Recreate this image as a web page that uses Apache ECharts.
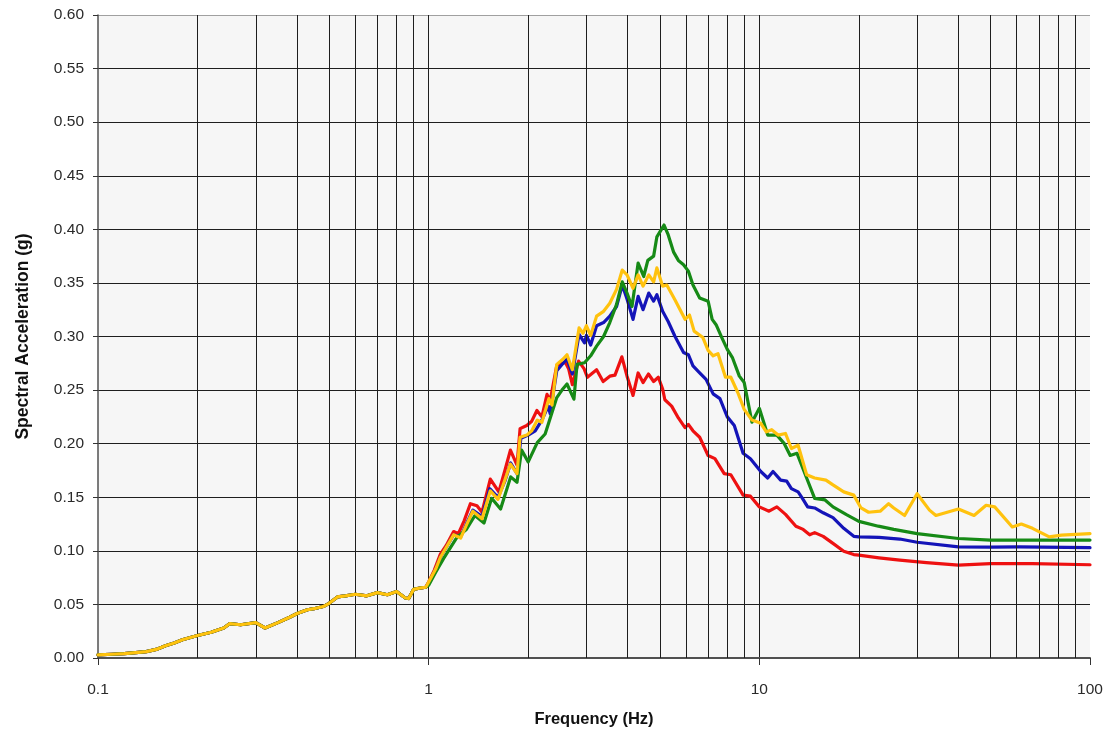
<!DOCTYPE html>
<html>
<head>
<meta charset="utf-8">
<script src="https://cdn.jsdelivr.net/npm/echarts@6/dist/echarts.min.js"></script>
<style>
html,body{margin:0;padding:0;background:#fff;}
#chart{width:1109px;height:733px;}
</style>
</head>
<body>
<div id="chart"></div>
<script>
// Shared low-frequency portion (all four curves coincide)
const lowF = [0.1, 0.11, 0.12, 0.13, 0.14, 0.15, 0.16, 0.17, 0.18, 0.2, 0.22, 0.24, 0.25, 0.27, 0.3, 0.32, 0.35, 0.38, 0.4, 0.43, 0.45, 0.48, 0.5, 0.53, 0.56, 0.6, 0.65, 0.7, 0.75, 0.8, 0.85, 0.87, 0.9, 0.95, 0.98];
const lowV = [0.003, 0.0035, 0.004, 0.005, 0.006, 0.008, 0.0115, 0.014, 0.017, 0.021, 0.024, 0.028, 0.032, 0.031, 0.033, 0.028, 0.033, 0.038, 0.0415, 0.045, 0.046, 0.048, 0.051, 0.057, 0.058, 0.0595, 0.058, 0.061, 0.059, 0.062, 0.056, 0.0555, 0.064, 0.0655, 0.066];

const redF = [1.0,1.04,1.085,1.13,1.19,1.23,1.28,1.337,1.4,1.45,1.536,1.63,1.7,1.767,1.85,1.89,1.98,2.05,2.125,2.2,2.28,2.33,2.44,2.59,2.65,2.72,2.84,2.95,3.02,3.22,3.37,3.53,3.66,3.84,3.98,4.15,4.3,4.45,4.62,4.79,4.95,5.1,5.18,5.43,5.69,5.96,6.1,6.3,6.6,7.0,7.34,7.83,8.2,8.93,9.4,10.0,10.7,11.3,12.0,12.9,13.57,14.2,14.7,15.6,16.7,18.0,19.3,20,23,26.6,32,40,50,67,100];
const redV = [0.071,0.082,0.097,0.105,0.118,0.116,0.128,0.144,0.142,0.136,0.167,0.155,0.175,0.194,0.18,0.214,0.217,0.221,0.231,0.225,0.246,0.240,0.273,0.276,0.270,0.255,0.277,0.27,0.262,0.269,0.258,0.263,0.264,0.281,0.263,0.245,0.266,0.257,0.265,0.258,0.262,0.251,0.241,0.235,0.224,0.215,0.218,0.212,0.206,0.189,0.186,0.172,0.171,0.152,0.151,0.141,0.137,0.141,0.134,0.123,0.120,0.115,0.117,0.1135,0.107,0.0996,0.0965,0.096,0.0935,0.0913,0.089,0.0866,0.088,0.088,0.087];

const blueF = [1.0,1.05,1.085,1.19,1.25,1.3,1.36,1.45,1.53,1.62,1.7,1.77,1.85,1.9,2.0,2.1,2.2,2.3,2.33,2.44,2.55,2.62,2.72,2.85,2.96,3.0,3.09,3.22,3.38,3.53,3.7,3.85,3.98,4.15,4.3,4.45,4.63,4.79,4.9,5.1,5.3,5.56,5.9,6.1,6.3,6.6,6.9,7.25,7.6,8.0,8.4,8.93,9.4,10.1,10.6,11.0,11.6,12.1,12.5,13.1,13.5,14.0,14.7,15.6,16.7,18,19.3,20,23,26.6,30,40,50,61,100];
const blueV = [0.07,0.083,0.094,0.115,0.113,0.125,0.138,0.132,0.158,0.15,0.165,0.182,0.172,0.205,0.208,0.212,0.222,0.235,0.228,0.268,0.275,0.279,0.265,0.302,0.294,0.301,0.292,0.31,0.313,0.319,0.328,0.348,0.335,0.316,0.3375,0.325,0.3405,0.333,0.339,0.3235,0.314,0.300,0.285,0.283,0.2725,0.266,0.26,0.2465,0.242,0.225,0.217,0.191,0.186,0.174,0.168,0.174,0.166,0.165,0.158,0.155,0.149,0.141,0.140,0.1355,0.131,0.121,0.1135,0.113,0.1125,0.111,0.108,0.1037,0.1035,0.1037,0.103];

const greenF = [1.0,1.05,1.11,1.22,1.3,1.38,1.47,1.55,1.65,1.77,1.85,1.91,2.0,2.13,2.25,2.31,2.44,2.53,2.62,2.75,2.81,2.96,3.09,3.22,3.38,3.53,3.7,3.85,3.98,4.12,4.3,4.47,4.6,4.79,4.9,5.15,5.3,5.5,5.69,5.9,6.1,6.3,6.6,7.0,7.2,7.4,7.7,8.0,8.3,8.7,9.0,9.5,10.0,10.6,11.3,11.9,12.4,13.0,13.9,14.7,15.8,16.7,18.4,20,22.9,25.5,30,40,50,70,100];
const greenV = [0.068,0.08,0.093,0.113,0.12,0.133,0.126,0.149,0.139,0.169,0.164,0.194,0.183,0.201,0.209,0.22,0.243,0.25,0.2557,0.2415,0.274,0.2755,0.282,0.291,0.30,0.313,0.33,0.351,0.3405,0.328,0.3685,0.356,0.371,0.375,0.393,0.404,0.395,0.379,0.371,0.367,0.361,0.348,0.336,0.333,0.316,0.311,0.299,0.288,0.28,0.263,0.257,0.22,0.233,0.208,0.208,0.2,0.189,0.191,0.168,0.149,0.1475,0.141,0.1335,0.1275,0.123,0.12,0.116,0.1115,0.11,0.11,0.11];

const yellowF = [1.0,1.05,1.085,1.19,1.25,1.3,1.36,1.45,1.536,1.62,1.7,1.767,1.85,1.89,1.98,2.05,2.13,2.2,2.31,2.36,2.44,2.55,2.62,2.72,2.85,2.93,3.0,3.09,3.22,3.38,3.53,3.7,3.85,3.98,4.15,4.3,4.45,4.63,4.79,4.9,5.1,5.25,5.56,5.96,6.15,6.35,6.75,7.0,7.25,7.5,7.9,8.2,8.6,9.0,9.5,10.1,10.5,10.9,11.4,12.0,12.5,13.1,13.9,14.7,15.9,16.7,18,19.3,20.3,21.4,23.2,24.6,25.5,27.5,30,32.7,34.2,37,40,44.6,48.5,51.5,58.2,62,67,75.3,82,100];
const yellowV = [0.071,0.083,0.094,0.115,0.112,0.124,0.137,0.13,0.156,0.148,0.166,0.181,0.172,0.206,0.208,0.212,0.222,0.22,0.242,0.236,0.274,0.279,0.283,0.269,0.308,0.303,0.31,0.301,0.319,0.3235,0.331,0.344,0.362,0.3575,0.345,0.3575,0.347,0.3575,0.351,0.364,0.347,0.348,0.334,0.316,0.32,0.305,0.299,0.287,0.282,0.284,0.262,0.262,0.248,0.232,0.222,0.219,0.211,0.213,0.208,0.2095,0.1955,0.1985,0.171,0.168,0.166,0.1615,0.155,0.152,0.14,0.136,0.137,0.144,0.14,0.133,0.1533,0.138,0.133,0.136,0.139,0.133,0.1425,0.141,0.1223,0.125,0.121,0.113,0.1146,0.116];

const minorGrid = [0.2,0.3,0.4,0.5,0.6,0.7,0.8,0.9,2,3,4,5,6,7,8,9,20,30,40,50,60,70,80,90];
const yTicks = ['0.00','0.05','0.10','0.15','0.20','0.25','0.30','0.35','0.40','0.45','0.50','0.55','0.60'];

function pairs(fs, vs) {
  const lo = lowF.map((f, i) => [f, lowV[i]]);
  return lo.concat(fs.map((f, i) => [f, vs[i]]));
}

const FONT = '"Liberation Sans", Arial, sans-serif';
const chart = echarts.init(document.getElementById('chart'), null, {renderer: 'canvas'});

const splitColors = yTicks.slice(1).map((t, i, a) => i === a.length - 1 ? '#a0a0a0' : '#1e1e1e');

function lineSeries(name, data, color, z) {
  return {
    name, type: 'line', data, z,
    showSymbol: false, symbol: 'none', smooth: false,
    lineStyle: {color, width: 3.2, join: 'round', cap: 'round'},
    silent: true
  };
}

chart.setOption({
  animation: false,
  backgroundColor: '#ffffff',
  grid: {
    left: 98, right: 19, top: 15, bottom: 73,
    show: true, backgroundColor: '#f6f6f6', borderWidth: 0
  },
  xAxis: {
    type: 'log', logBase: 10, min: 0.1, max: 100,
    name: 'Frequency (Hz)', nameLocation: 'middle', nameGap: 53,
    nameTextStyle: {fontFamily: FONT, fontSize: 16.5, fontWeight: 'bold', color: '#111'},
    axisLine: {show: true, lineStyle: {color: '#505050', width: 2}},
    axisTick: {show: true, inside: false, length: 7, lineStyle: {color: '#333'}},
    axisLabel: {
      fontFamily: FONT, fontSize: 15.5, color: '#2a2a2a', margin: 24,
      formatter: function (v) { return String(+v.toPrecision(3)); }
    },
    splitLine: {show: true, showMinLine: false, showMaxLine: false, lineStyle: {color: '#1e1e1e', width: 1}},
    minorTick: {show: false}, minorSplitLine: {show: false}
  },
  yAxis: {
    type: 'value', min: 0, max: 0.6, interval: 0.05,
    name: 'Spectral Acceleration (g)', nameLocation: 'middle', nameGap: 66, nameRotate: 90,
    nameTextStyle: {fontFamily: FONT, fontSize: 17.5, fontWeight: 'bold', color: '#111'},
    axisLine: {show: true, lineStyle: {color: '#505050', width: 1.5}},
    axisTick: {show: true, inside: false, length: 5, lineStyle: {color: '#333'}},
    axisLabel: {
      fontFamily: FONT, fontSize: 15.5, color: '#2a2a2a', margin: 14,
      formatter: function (v) { return yTicks[Math.round(v / 0.05)]; }
    },
    splitLine: {show: true, showMinLine: false, lineStyle: {color: splitColors, width: 1}}
  },
  series: [
    {
      type: 'line', data: [], z: 1, silent: true,
      markLine: {
        silent: true, symbol: 'none', animation: false,
        label: {show: false},
        lineStyle: {color: '#1e1e1e', width: 1, type: 'solid'},
        data: minorGrid.map(v => ({xAxis: v}))
      }
    },
    lineSeries('Red', pairs(redF, redV), '#ee1111', 3),
    lineSeries('Blue', pairs(blueF, blueV), '#1414b8', 4),
    lineSeries('Green', pairs(greenF, greenV), '#168a16', 5),
    lineSeries('Yellow', pairs(yellowF, yellowV), '#ffc20e', 6)
  ]
});
</script>
</body>
</html>
